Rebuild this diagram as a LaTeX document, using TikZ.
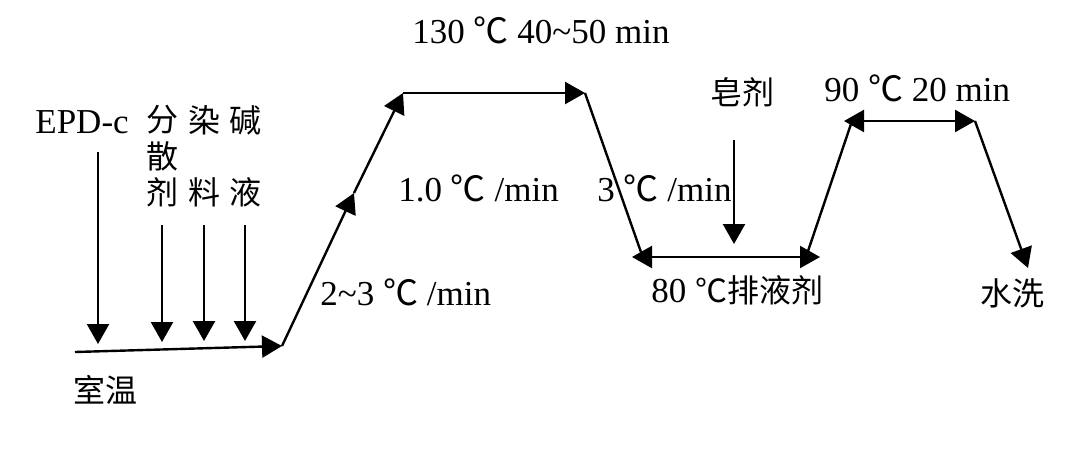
\documentclass[tikz,border=0pt]{standalone}
\usepackage{fontspec}
\setmainfont{Liberation Serif}
\newfontfamily\cjk{Noto Sans CJK SC}
\newcommand{\degc}{{\cjk ℃}}
\usepackage{tikz}
\usetikzlibrary{arrows.meta, positioning}

\begin{document}
\begin{tikzpicture}[
  x=0.5pt, y=-0.5pt,
  lbl/.style={inner sep=0pt, font=\fontsize{17.5}{20}\selectfont, anchor=west},
  zh/.style={inner sep=0pt, font=\cjk\fontsize{16}{18}\selectfont},
  curve/.style={line width=1.2pt, black},
  arr/.style={curve, -{Triangle[length=10pt, width=11pt]}},
  darr/.style={curve, {Triangle[length=10pt, width=11pt]}-{Triangle[length=10pt, width=11pt]}},
]
\useasboundingbox (0,0) rectangle (1080,471);

% Temperaturverlauf
\coordinate (r0) at (75,352);
\coordinate (r1) at (282,346);
\coordinate (rm) at (354,193);
\coordinate (r2) at (403,93);
\coordinate (r3) at (585,93);
\coordinate (d0) at (642,255);
\coordinate (b1) at (632,257);
\coordinate (b2) at (820,257);
\coordinate (d1) at (806,257);
\coordinate (u0) at (852,121);
\coordinate (u1) at (844,121);
\coordinate (u2) at (975,121);
\coordinate (w) at (1028,268);

% Zugaben
\node[lbl] (epd) at (35,122) {EPD-c};
\node[zh] (fen) at (162,120) {分};
\node[zh] (san) at (162,156) {散};
\node[zh] (ji) at (162,192) {剂};
\node[zh] (ran) at (204,120) {染};
\node[zh] (liao) at (204,192) {料};
\node[zh] (jian) at (245,120) {碱};
\node[zh] (ye) at (245,192) {液};
\node[zh] (zao) at (742,92) {皂剂};
\coordinate (epdtop) at (98,152);
\coordinate (jitop) at (162,225);
\coordinate (liaotop) at (204,225);
\coordinate (yetop) at (245,225);
\coordinate (zaotop) at (734,140);
\coordinate (epdtip) at (98,344);
\coordinate (jitip) at (162,342);
\coordinate (liaotip) at (204,341);
\coordinate (yetip) at (245,341);
\coordinate (zaotip) at (734,244);

\node[zh] (shiwen) at (105,390) {室温};
\node[lbl] (ramp1) at (320,292) {2\textasciitilde3 \degc\ /min};
\node[lbl] (ramp2) at (398,188) {1.0 \degc\ /min};
\node[lbl] (hold1) at (412,30) {130 \degc\ 40\textasciitilde50 min};
\node[lbl] (cool) at (597,188) {3 \degc\ /min};
\node[lbl] (hold2) at (824,88) {90 \degc\ 20 min};
\node[lbl] (hold3) at (651,290) {80 {\cjk\fontsize{16}{18}\selectfont ℃排液剂}};
\node[zh] (wash) at (1012,293) {水洗};

\draw[arr] (r0) -- (r1);
\draw[arr] (r1) -- (rm);
\draw[arr] (rm) -- (r2);
\draw[arr] (r2) -- (r3);
\draw[curve] (r3) -- (d0);
\draw[darr] (b1) -- (b2);
\draw[curve] (d1) -- (u0);
\draw[darr] (u1) -- (u2);
\draw[arr] (u2) -- (w);

\draw[arr] (epdtop) -- (epdtip);
\draw[arr] (jitop) -- (jitip);
\draw[arr] (liaotop) -- (liaotip);
\draw[arr] (yetop) -- (yetip);
\draw[arr] (zaotop) -- (zaotip);

\end{tikzpicture}
\end{document}
